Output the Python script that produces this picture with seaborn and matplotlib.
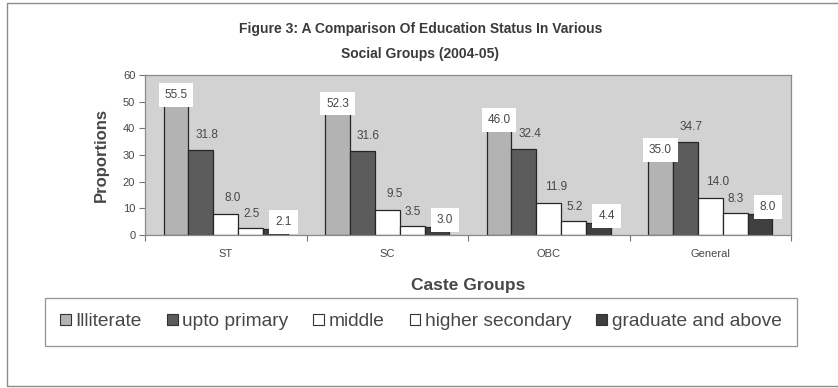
import matplotlib
matplotlib.use("Agg")
import matplotlib.pyplot as plt
import pandas as pd
import seaborn as sns
from matplotlib.patches import Patch
from matplotlib.lines import Line2D

# Education status by social group, 2004-05 (percent)
groups = ["ST", "SC", "OBC", "General"]
levels = ["Illiterate", "upto primary", "middle", "higher secondary", "graduate and above"]
illiterate = [55.5, 52.3, 46.0, 35.0]
upto_primary = [31.8, 31.6, 32.4, 34.7]
middle = [8.0, 9.5, 11.9, 14.0]
higher_secondary = [2.5, 3.5, 5.2, 8.3]
graduate = [2.1, 3.0, 4.4, 8.0]
y_ticks = [0, 10, 20, 30, 40, 50, 60]

series = [illiterate, upto_primary, middle, higher_secondary, graduate]
df = pd.DataFrame(
    [(g, lvl, v) for lvl, vals in zip(levels, series) for g, v in zip(groups, vals)],
    columns=["group", "level", "value"],
)

colors = ["#b3b3b3", "#5c5c5c", "#ffffff", "#ffffff", "#3f3f3f"]
palette = dict(zip(levels, colors))
text_col = "#474747"

sns.set_theme(style="white")
plt.rcParams["font.family"] = ["Liberation Sans", "DejaVu Sans"]

W, H = 838, 388
fig = plt.figure(figsize=(W / 100, H / 100), dpi=100)
fig.patch.set_facecolor("white")

# plot area in pixel terms
x0, x1, y_top, y_bot = 145, 791, 75, 235
ax = fig.add_axes([x0 / W, 1 - y_bot / H, (x1 - x0) / W, (y_bot - y_top) / H])
ax.set_facecolor("#d2d2d2")

sns.barplot(
    data=df, x="group", y="value", hue="level",
    order=groups, hue_order=levels, palette=palette,
    width=0.77, gap=0, dodge=True, saturation=1,
    edgecolor="#262626", linewidth=0.9, errorbar=None,
    legend=False, ax=ax,
)

ax.set_xlim(-0.5, len(groups) - 0.5)
ax.set_ylim(0, 60)
ax.set_yticks(y_ticks)
ax.set_yticklabels([str(t) for t in y_ticks], fontsize=8, color=text_col)

# category ticks sit on the group boundaries, labels at the centres
ax.set_xticks([i - 0.5 for i in range(len(groups) + 1)])
ax.set_xticklabels([])
ax.set_xticks(range(len(groups)), minor=True)
ax.set_xticklabels(groups, minor=True, fontsize=8, color=text_col)
ax.tick_params(axis="x", which="major", direction="out", length=4, width=0.8,
               color="#777777", bottom=True)
ax.tick_params(axis="x", which="minor", length=0, pad=10)
ax.tick_params(axis="y", direction="out", length=4, width=0.8, color="#777777",
               left=True, pad=3)

for s in ax.spines.values():
    s.set_color("#8a8a8a")
    s.set_linewidth(0.9)

ax.set_xlabel("Caste Groups", fontsize=12.5, fontweight="bold", color=text_col, labelpad=14)
ax.set_ylabel("Proportions", fontsize=12, fontweight="bold", color=text_col, labelpad=10)

# value labels: (dx, dy) in pixels from the bar top, and whether a white box is drawn
label_style = {
    "Illiterate": (0, -8, True),
    "upto primary": (6, 15, False),
    "middle": (7, 16, False),
    "higher secondary": (1, 14, False),
    "graduate and above": (8, 7, True),
}
for lvl, vals, container in zip(levels, series, ax.containers):
    dx, dy, boxed = label_style[lvl]
    for bar, v in zip(container, vals):
        cx = bar.get_x() + bar.get_width() / 2
        kw = {}
        if boxed:
            kw["bbox"] = dict(boxstyle="square,pad=0.5", fc="white", ec="none")
        ax.annotate(f"{v:.1f}", (cx, v), xytext=(dx, dy), textcoords="offset pixels",
                    ha="center", va="center", fontsize=8.5, color=text_col,
                    zorder=5, **kw)

# title
fig.text(421 / W, 1 - 29 / H, "Figure 3: A Comparison Of Education Status In Various",
         ha="center", va="center", fontsize=10, fontweight="bold", color="#3a3a3a")
fig.text(420 / W, 1 - 54 / H, "Social Groups (2004-05)",
         ha="center", va="center", fontsize=10, fontweight="bold", color="#3a3a3a")

# legend
handles = [Patch(facecolor=c, edgecolor="#333333", linewidth=0.8) for c in colors]
leg = fig.legend(
    handles, levels, loc="center", bbox_to_anchor=(421 / W, 1 - 322 / H),
    ncol=5, frameon=True, fancybox=False, fontsize=13.8,
    handlelength=0.55, handleheight=0.55, handletextpad=0.25,
    columnspacing=1.3, borderpad=0.8, edgecolor="#7a7a7a",
)
leg.get_frame().set_linewidth(0.9)
for t in leg.get_texts():
    t.set_color(text_col)

# outer frame of the chart area
fc = "#8c8c8c"
fig.add_artist(Line2D([7 / W, 7 / W], [1 - 3 / H, 1 - 386 / H], transform=fig.transFigure,
                      color=fc, lw=1))
fig.add_artist(Line2D([7 / W, 1], [1 - 3 / H, 1 - 3 / H], transform=fig.transFigure,
                      color=fc, lw=1))
fig.add_artist(Line2D([7 / W, 1], [1 - 386 / H, 1 - 386 / H], transform=fig.transFigure,
                      color=fc, lw=1))

fig.savefig("out.png", dpi=100)
